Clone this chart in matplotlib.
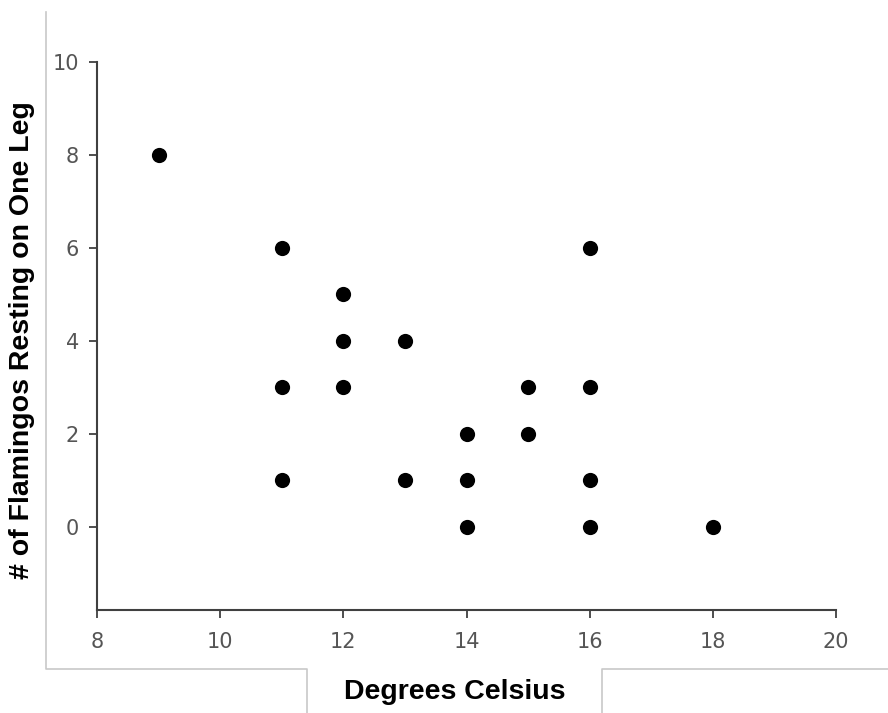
import matplotlib
matplotlib.use("Agg")
import matplotlib.pyplot as plt
from matplotlib.lines import Line2D

# flamingo data
temps = [9, 11, 11, 11, 12, 12, 12, 13, 13, 14, 14, 14, 15, 15, 16, 16, 16, 16, 18]
legs = [8, 6, 3, 1, 5, 4, 3, 4, 1, 2, 1, 0, 3, 2, 6, 3, 1, 0, 0]
xticks = [8, 10, 12, 14, 16, 18, 20]
yticks = [0, 2, 4, 6, 8, 10]

W, H = 888, 713
fig = plt.figure(figsize=(W / 100, H / 100), dpi=100)
ax = fig.add_axes([97 / W, 1 - 610 / H, (836 - 97) / W, (610 - 62) / H])

ax.scatter(temps, legs, s=120, color="black", zorder=3, linewidths=0)

ax.set_xlim(8, 20)
ax.set_ylim(-1.785, 10)
ax.set_xticks(xticks)
ax.set_yticks(yticks)

for s in ["top", "right"]:
    ax.spines[s].set_visible(False)
for s in ["left", "bottom"]:
    ax.spines[s].set_color("#404040")
    ax.spines[s].set_linewidth(1.5)

tickfont = ["Liberation Sans Narrow", "DejaVu Sans"]
ax.tick_params(axis="both", colors="#404040", width=1.3, length=6, labelcolor="#555555", labelsize=15)
ax.tick_params(axis="x", pad=10)
ax.tick_params(axis="y", pad=7)
for lab in ax.get_xticklabels() + ax.get_yticklabels():
    lab.set_family(tickfont)

# axis titles
fig.text(455 / W, 1 - 692 / H, "Degrees Celsius", ha="center", va="center",
         fontsize=20.5, fontweight="bold", family="Liberation Sans")
fig.text(22 / W, 1 - 340 / H, "# of Flamingos Resting on One Leg", ha="center", va="center",
         rotation=90, fontsize=20.5, fontweight="bold", family="Liberation Sans")

# grey frame of the cropped chart area
def px_line(xs, ys):
    fig.add_artist(Line2D([x / W for x in xs], [1 - y / H for y in ys],
                          color="#c8c8c8", linewidth=1.2, transform=fig.transFigure))

px_line([46, 46, 307, 307], [12, 669, 669, 713])
px_line([602, 602, 888], [713, 669, 669])

fig.savefig("out.png", dpi=100, facecolor="white")
